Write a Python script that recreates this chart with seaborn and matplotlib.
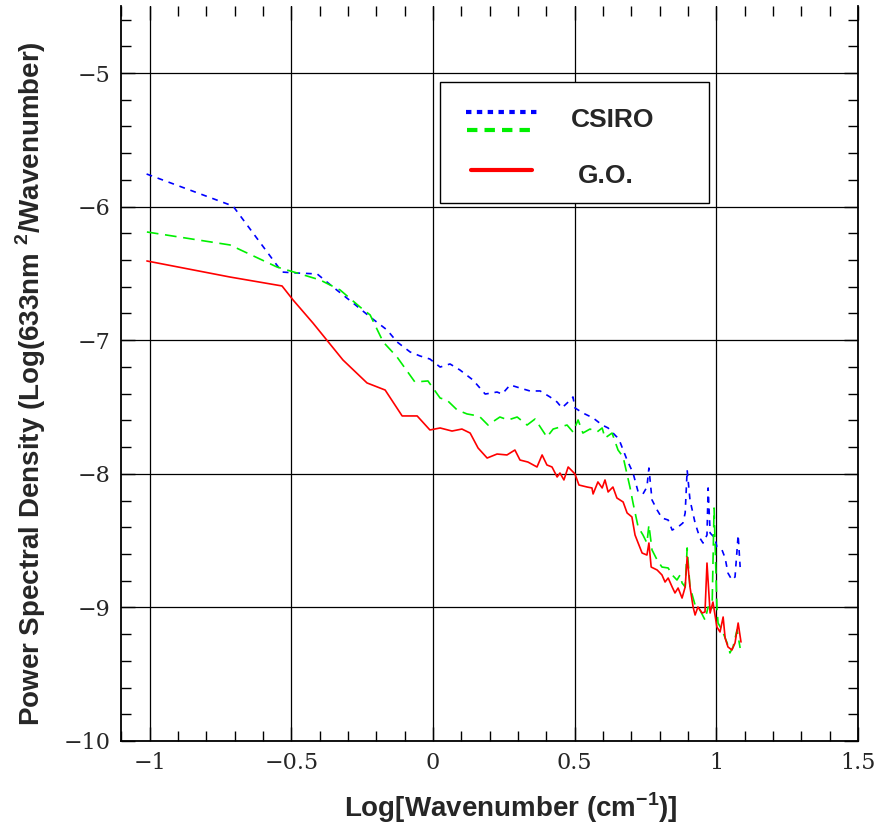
import numpy as np
import pandas as pd
import matplotlib
matplotlib.use("Agg")
import matplotlib.pyplot as plt
import seaborn as sns
from matplotlib import font_manager
from matplotlib.lines import Line2D
from matplotlib.patches import Rectangle
from matplotlib.ticker import MultipleLocator, FuncFormatter

# ---------------- data ----------------
csiro_blue_x = [-1.011, -0.706, -0.533, -0.480, -0.409, -0.353, -0.282, -0.222, -0.162, -0.127,
                -0.081, -0.046, -0.011, 0.025, 0.060, 0.095, 0.141, 0.184, 0.226, 0.244,
                0.272, 0.307, 0.342, 0.378, 0.413, 0.438, 0.455, 0.477, 0.494, 0.501,
                0.529, 0.565, 0.597, 0.618, 0.649, 0.660, 0.685, 0.706, 0.724, 0.741,
                0.755, 0.762, 0.773, 0.791, 0.808, 0.830, 0.844, 0.865, 0.882, 0.890,
                0.897, 0.907, 0.925, 0.942, 0.953, 0.967, 0.971, 0.978, 0.995, 1.002,
                1.020, 1.031, 1.041, 1.055, 1.066, 1.077, 1.084]
csiro_blue_y = [-5.756, -5.996, -6.490, -6.497, -6.504, -6.602, -6.722, -6.826, -6.924, -7.013,
                -7.088, -7.118, -7.141, -7.201, -7.178, -7.223, -7.298, -7.403, -7.388, -7.403,
                -7.335, -7.358, -7.380, -7.380, -7.425, -7.463, -7.507, -7.463, -7.425, -7.507,
                -7.545, -7.582, -7.635, -7.657, -7.725, -7.762, -7.897, -7.994, -8.136, -8.151,
                -8.099, -7.957, -8.196, -8.271, -8.331, -8.346, -8.421, -8.398, -8.368, -8.293,
                -7.972, -8.196, -8.368, -8.481, -8.518, -8.458, -8.106, -8.443, -8.481, -8.548,
                -8.570, -8.630, -8.743, -8.795, -8.772, -8.458, -8.698]

csiro_green_x = [-1.010, -0.717, -0.551, -0.480, -0.399, -0.328, -0.258, -0.222, -0.176, -0.127,
                 -0.064, -0.018, 0.025, 0.049, 0.085, 0.120, 0.141, 0.166, 0.194, 0.236,
                 0.265, 0.297, 0.332, 0.360, 0.402, 0.424, 0.473, 0.494, 0.512, 0.529,
                 0.554, 0.579, 0.597, 0.607, 0.632, 0.653, 0.671, 0.695, 0.706, 0.724,
                 0.741, 0.755, 0.762, 0.773, 0.791, 0.808, 0.830, 0.844, 0.861, 0.872,
                 0.879, 0.890, 0.897, 0.907, 0.925, 0.942, 0.960, 0.971, 0.985, 0.992,
                 1.002, 1.006, 1.020, 1.038, 1.048, 1.059, 1.073, 1.084]
csiro_green_y = [-6.190, -6.287, -6.452, -6.497, -6.549, -6.624, -6.751, -6.811, -7.013, -7.126,
                 -7.313, -7.305, -7.433, -7.448, -7.522, -7.552, -7.560, -7.575, -7.635, -7.575,
                 -7.597, -7.575, -7.635, -7.590, -7.725, -7.665, -7.635, -7.687, -7.597, -7.695,
                 -7.665, -7.687, -7.657, -7.732, -7.695, -7.822, -7.874, -8.099, -8.219, -8.398,
                 -8.458, -8.518, -8.383, -8.570, -8.645, -8.698, -8.705, -8.757, -8.795, -8.757,
                 -8.817, -8.847, -8.555, -8.847, -8.982, -9.019, -9.094, -8.997, -9.004, -8.256,
                 -8.997, -9.117, -9.169, -9.266, -9.341, -9.296, -9.169, -9.304]

go_x = [-1.010, -0.717, -0.533, -0.494, -0.424, -0.318, -0.233, -0.169, -0.109, -0.056,
        -0.011, 0.025, 0.067, 0.102, 0.131, 0.159, 0.191, 0.226, 0.261, 0.289,
        0.307, 0.335, 0.367, 0.385, 0.402, 0.420, 0.438, 0.448, 0.462, 0.477,
        0.501, 0.515, 0.544, 0.561, 0.565, 0.582, 0.597, 0.607, 0.618, 0.635,
        0.649, 0.671, 0.685, 0.702, 0.713, 0.724, 0.738, 0.755, 0.762, 0.770,
        0.791, 0.808, 0.819, 0.830, 0.844, 0.854, 0.865, 0.879, 0.890, 0.897,
        0.907, 0.918, 0.925, 0.935, 0.950, 0.960, 0.967, 0.978, 0.988, 1.002,
        1.013, 1.024, 1.031, 1.041, 1.055, 1.066, 1.077, 1.087]
go_y = [-6.407, -6.527, -6.594, -6.699, -6.871, -7.148, -7.320, -7.373, -7.567, -7.567,
        -7.672, -7.657, -7.680, -7.665, -7.695, -7.807, -7.882, -7.852, -7.859, -7.822,
        -7.897, -7.912, -7.949, -7.859, -7.934, -7.949, -8.024, -7.994, -8.046, -7.949,
        -8.001, -8.084, -8.099, -8.106, -8.151, -8.061, -8.106, -8.046, -8.136, -8.099,
        -8.181, -8.211, -8.293, -8.323, -8.458, -8.518, -8.593, -8.608, -8.518, -8.698,
        -8.720, -8.757, -8.810, -8.780, -8.847, -8.892, -8.855, -8.930, -8.847, -8.623,
        -8.847, -8.997, -9.057, -8.997, -9.042, -9.034, -8.668, -9.042, -8.960, -9.147,
        -9.184, -9.072, -9.229, -9.296, -9.319, -9.266, -9.117, -9.259]

x_ticks = [-1, -0.5, 0, 0.5, 1, 1.5]
y_ticks = [-10, -9, -8, -7, -6, -5]
legend_labels = ["CSIRO", "G.O."]
x_label = "Log[Wavenumber (cm$^{\\mathbf{-1}}$)]"
y_label = "Power Spectral Density (Log(633nm $^{\\mathbf{2}}$/Wavenumber)"

# ---------------- style ----------------
sns.set_style("white")
avail = {f.name for f in font_manager.fontManager.ttflist}
label_font = "Liberation Sans Narrow" if "Liberation Sans Narrow" in avail else "Liberation Sans"
plt.rcParams["font.family"] = ["DejaVu Sans"]
plt.rcParams["mathtext.fontset"] = "custom"
plt.rcParams["mathtext.bf"] = f"{label_font}:bold"
plt.rcParams["mathtext.rm"] = f"{label_font}:bold"
plt.rcParams["axes.unicode_minus"] = True

fig = plt.figure(figsize=(8.79, 8.27), dpi=100)
ax = fig.add_axes([0.1381, 0.104, 0.838, 0.8885])

df_b = pd.DataFrame({"x": csiro_blue_x, "y": csiro_blue_y})
df_g = pd.DataFrame({"x": csiro_green_x, "y": csiro_green_y})
df_r = pd.DataFrame({"x": go_x, "y": go_y})

sns.lineplot(data=df_b, x="x", y="y", ax=ax, color="#0000ff", lw=1.2,
             sort=False, estimator=None)
ax.lines[-1].set_dashes((3.5, 3.5))
sns.lineplot(data=df_g, x="x", y="y", ax=ax, color="#00f000", lw=1.2,
             sort=False, estimator=None)
ax.lines[-1].set_dashes((7, 4))
sns.lineplot(data=df_r, x="x", y="y", ax=ax, color="#ff0000", lw=1.2,
             sort=False, estimator=None)

ax.set_xlim(-1.1, 1.5)
ax.set_ylim(-10, -4.5)
ax.set_xticks(x_ticks)
ax.set_yticks(y_ticks)
ax.xaxis.set_minor_locator(MultipleLocator(0.1))
ax.yaxis.set_minor_locator(MultipleLocator(0.2))

def fmt(v, pos):
    s = f"{v:g}"
    return s.replace("-", "\u2212")
ax.xaxis.set_major_formatter(FuncFormatter(fmt))
ax.yaxis.set_major_formatter(FuncFormatter(fmt))

ax.grid(True, which="major", color="black", lw=0.9)
ax.tick_params(which="both", direction="in", top=True, right=True, left=True, bottom=True,
               color="black")
ax.tick_params(which="major", length=10, width=1, pad=8)
ax.tick_params(which="minor", length=7, width=1)
for lab in ax.get_xticklabels() + ax.get_yticklabels():
    lab.set_fontfamily("DejaVu Serif")
    lab.set_fontsize(16)

for side in ["left", "right", "bottom"]:
    ax.spines[side].set_visible(True)
    ax.spines[side].set_color("black")
    ax.spines[side].set_linewidth(1.3)
ax.spines["top"].set_visible(False)

ax.set_xlabel(x_label, fontfamily=label_font, fontweight="bold", fontsize=20)
ax.set_ylabel(y_label, fontfamily=label_font, fontweight="bold", fontsize=20)
ax.xaxis.set_label_coords(0.529, -0.068)
ax.yaxis.set_label_coords(-0.100, 0.486)

# ---------------- legend box ----------------
tr = ax.transAxes
ax.add_patch(Rectangle((0.4325, 0.7322), 0.3652, 0.1647, transform=tr, fill=True,
                       facecolor="white", edgecolor="black", lw=1.0, zorder=5))
ax.add_line(Line2D([0.4678, 0.5641], [0.8555, 0.8555], transform=tr, color="#0000ff",
                   lw=3, dashes=(1.3, 1.3), zorder=6))
ax.add_line(Line2D([0.4692, 0.5641], [0.8310, 0.8310], transform=tr, color="#00f000",
                   lw=3, dashes=(2.5, 1.7), zorder=6))
ax.add_line(Line2D([0.4746, 0.5573], [0.7765, 0.7765], transform=tr, color="#ff0000",
                   lw=3, zorder=6))
ax.text(0.6101, 0.8452, legend_labels[0], transform=tr, fontfamily="Liberation Sans",
        fontweight="bold", fontsize=19, va="center", ha="left", zorder=7)
ax.text(0.6196, 0.7690, legend_labels[1], transform=tr, fontfamily="Liberation Sans",
        fontweight="bold", fontsize=19, va="center", ha="left", zorder=7)

fig.savefig("out.png", dpi=100)
